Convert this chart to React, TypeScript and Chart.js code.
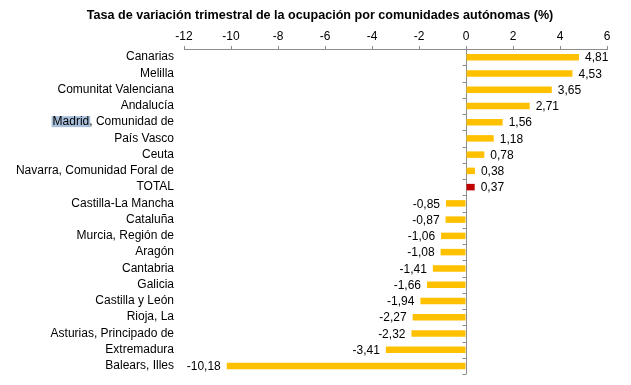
import React, { useEffect, useRef } from "react";
import { Chart, registerables } from "chart.js";

Chart.register(...registerables);

const categories = [
  "Canarias",
  "Melilla",
  "Comunitat Valenciana",
  "Andalucía",
  "Madrid, Comunidad de",
  "País Vasco",
  "Ceuta",
  "Navarra, Comunidad Foral de",
  "TOTAL",
  "Castilla-La Mancha",
  "Cataluña",
  "Murcia, Región de",
  "Aragón",
  "Cantabria",
  "Galicia",
  "Castilla y León",
  "Rioja, La",
  "Asturias, Principado de",
  "Extremadura",
  "Balears, Illes",
];

const values = [
  4.81, 4.53, 3.65, 2.71, 1.56, 1.18, 0.78, 0.38, 0.37, -0.85, -0.87, -1.06,
  -1.08, -1.41, -1.66, -1.94, -2.27, -2.32, -3.41, -10.18,
];

const xMin = -12;
const xMax = 6;
const xStep = 2;

const titleText = "Tasa de variación trimestral de la ocupación por comunidades autónomas (%)";

const FONT = "'Liberation Sans', Arial, sans-serif";

export default function App() {
  const ref = useRef<HTMLCanvasElement | null>(null);

  useEffect(() => {
    if (!ref.current) return;

    const titlePlugin = {
      id: "customTitle",
      afterDraw(chart: any) {
        const ctx = chart.ctx;
        ctx.save();
        ctx.font = `bold 12.6px ${FONT}`;
        ctx.fillStyle = "#000";
        ctx.textAlign = "center";
        ctx.textBaseline = "middle";
        ctx.fillText(titleText, 320, 16);
        ctx.restore();
      },
    };

    const labelsPlugin = {
      id: "valueLabels",
      afterDatasetsDraw(chart: any) {
        const ctx = chart.ctx;
        const meta = chart.getDatasetMeta(0);
        ctx.save();
        ctx.font = `12px ${FONT}`;
        ctx.fillStyle = "#000";
        ctx.textBaseline = "middle";
        meta.data.forEach((el: any, i: number) => {
          const v = values[i];
          const txt = v.toFixed(2).replace(".", ",");
          if (v >= 0) {
            ctx.textAlign = "left";
            ctx.fillText(txt, el.x + 6, el.y + 1);
          } else {
            ctx.textAlign = "right";
            ctx.fillText(txt, el.x - 6, el.y + 1);
          }
        });
        ctx.restore();
      },
    };

    const zeroTicksPlugin = {
      id: "zeroTicks",
      afterDraw(chart: any) {
        const ctx = chart.ctx;
        const xs = chart.scales.x;
        const area = chart.chartArea;
        const x0 = Math.round(xs.getPixelForValue(0)) + 0.5;
        const n = categories.length;
        const h = (area.bottom - area.top) / n;
        ctx.save();
        ctx.strokeStyle = "#8c8c8c";
        ctx.lineWidth = 1;
        ctx.beginPath();
        for (let i = 0; i <= n; i++) {
          const y = Math.round(area.top + i * h) + 0.5;
          ctx.moveTo(x0 - 4, y);
          ctx.lineTo(x0, y);
        }
        ctx.stroke();
        ctx.restore();
      },
    };

    const highlightPlugin = {
      id: "madridHighlight",
      beforeDraw(chart: any) {
        const ctx = chart.ctx;
        const ys = chart.scales.y;
        const idx = 4;
        const y = ys.getPixelForValue(idx);
        ctx.save();
        ctx.font = `12px ${FONT}`;
        const full = ctx.measureText(categories[idx]).width;
        const w = ctx.measureText("Madrid").width;
        const right = chart.chartArea.left - 10;
        const start = right - full;
        ctx.fillStyle = "#a8c0dc";
        ctx.fillRect(start - 1, y - 6, w + 2, 11);
        ctx.restore();
      },
    };

    const chart = new Chart(ref.current, {
      type: "bar",
      data: {
        labels: categories,
        datasets: [
          {
            data: values,
            backgroundColor: categories.map((c) => (c === "TOTAL" ? "#C00000" : "#FFC000")),
            borderWidth: 0,
            barPercentage: 0.4,
            categoryPercentage: 1,
          },
        ],
      },
      options: {
        indexAxis: "y",
        responsive: false,
        animation: false,
        layout: { padding: { left: 0, right: 24, top: 28, bottom: 11 } },
        plugins: {
          legend: { display: false },
          tooltip: { enabled: false },
          title: { display: false },
        },
        scales: {
          x: {
            position: "top",
            min: xMin,
            max: xMax,
            ticks: {
              stepSize: xStep,
              color: "#000",
              font: { family: FONT, size: 12 },
              padding: 2,
            },
            grid: {
              drawTicks: true,
              tickLength: 3,
              tickColor: "#8c8c8c",
              color: (c: any) => (c.tick && c.tick.value === 0 ? "#8c8c8c" : "rgba(0,0,0,0)"),
            },
            border: { display: true, color: "#8c8c8c" },
            afterFit(scale: any) {
              scale.height = 21;
              scale.paddingLeft = 0;
              scale.paddingRight = 0;
            },
          },
          y: {
            ticks: {
              color: "#000",
              font: { family: FONT, size: 12 },
              padding: 10,
              autoSkip: false,
            },
            grid: { display: false, drawTicks: false },
            border: { display: false },
            afterFit(scale: any) {
              scale.width = 184;
              scale.paddingTop = 0;
              scale.paddingBottom = 0;
            },
          },
        },
      },
      plugins: [highlightPlugin, labelsPlugin, zeroTicksPlugin, titlePlugin],
    } as any);

    return () => chart.destroy();
  }, []);

  return (
    <div style={{ position: "absolute", left: 0, top: 0, width: 631, height: 385, background: "#fff" }}>
      <canvas ref={ref} width={631} height={385} />
    </div>
  );
}
